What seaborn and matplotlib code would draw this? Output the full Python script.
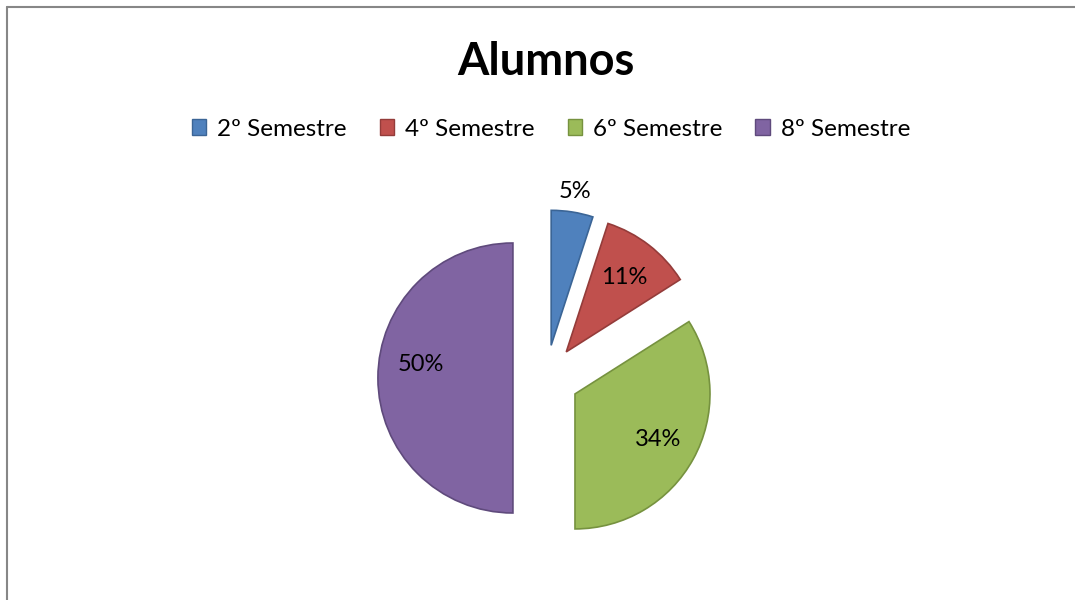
import matplotlib
matplotlib.use("Agg")
import matplotlib.pyplot as plt
from matplotlib.patches import Patch
from matplotlib.lines import Line2D
import seaborn as sns
import numpy as np

sns.set_theme(style="white")
plt.rcParams['font.family'] = ['Lato', 'DejaVu Sans']
plt.rcParams['text.color'] = 'black'

# data
labels = ["2º Semestre", "4º Semestre", "6º Semestre", "8º Semestre"]
values = [5, 11, 34, 50]
colors = ["#4F81BD", "#C0504D", "#9BBB59", "#8064A2"]
edges = ["#3B6596", "#943C3A", "#76923F", "#5F4A7C"]
title = "Alumnos"

W, H = 1075, 600
fig = plt.figure(figsize=(W / 100, H / 100), dpi=100)
ax = fig.add_axes([0, 0, 1, 1])

cx, cy, rpx = 546, 378, 135
expl = 0.245
wedges, texts, autotexts = ax.pie(
    values, colors=colors, explode=[expl] * len(values),
    startangle=90, counterclock=False, radius=1,
    autopct="%1.0f%%", pctdistance=0.7,
    textprops=dict(fontsize=17, color="black"),
    wedgeprops=dict(linewidth=1.2),
)
for w, ec in zip(wedges, edges):
    w.set_edgecolor(ec)

# small slice label sits outside (best fit)
w0 = wedges[0]
ang = np.deg2rad((w0.theta1 + w0.theta2) / 2)
ox, oy = w0.center
autotexts[0].set_position((ox + 1.15 * np.cos(ang), oy + 1.15 * np.sin(ang)))
# big slice label sits a little higher in the original
x3, y3 = autotexts[3].get_position()
autotexts[3].set_position((x3 + 0.02, y3 + 0.1))

ax.set_xlim(-cx / rpx, (W - cx) / rpx)
ax.set_ylim(-(H - cy) / rpx, cy / rpx)
ax.set_aspect("auto")
ax.axis("off")

fig.text(546 / W, 1 - 75 / H, title, ha="center", va="baseline",
         fontsize=32.5, fontweight="bold", color="black")

handles = [Patch(facecolor=c, edgecolor=e, linewidth=1) for c, e in zip(colors, edges)]
fig.legend(handles, labels, loc="center", bbox_to_anchor=(551 / W, 1 - 129 / H),
           ncol=4, frameon=False, fontsize=17.5, handlelength=0.6, handleheight=0.6,
           handletextpad=0.45, columnspacing=1.35, labelcolor="black")

# chart area border (only left and top edges visible)
fig.add_artist(Line2D([6.5 / W, 6.5 / W], [0, 1 - 6.5 / H], transform=fig.transFigure,
                      color="#878787", linewidth=1.5))
fig.add_artist(Line2D([6.5 / W, 1], [1 - 6.5 / H, 1 - 6.5 / H], transform=fig.transFigure,
                      color="#878787", linewidth=1.5))

fig.savefig("out.png", dpi=100, facecolor="white")
